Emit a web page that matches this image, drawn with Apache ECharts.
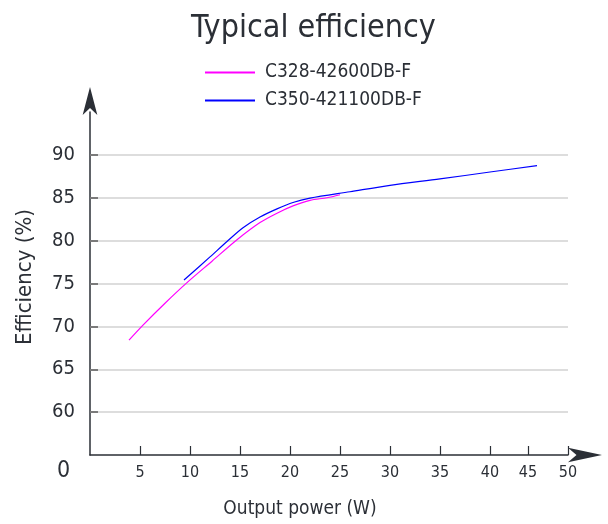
<!DOCTYPE html>
<html>
<head>
<meta charset="utf-8">
<script src="https://cdn.jsdelivr.net/npm/echarts@6/dist/echarts.min.js"></script>
<style>
  html, body { margin: 0; padding: 0; background: #fff; }
  #chart { width: 608px; height: 524px; }
</style>
</head>
<body>
<div id="chart"></div>
<script>
// 数据
const seriesNames = ['C328-42600DB-F', 'C350-421100DB-F']
const c328Power = [3.9, 5.3, 7.5, 9.7, 12.2, 14.7, 17, 18.7, 20.3, 22, 23.7, 25]
const c328Eff = [68.4, 70.15, 72.7, 75.1, 77.6, 80.1, 82.1, 83.2, 84.05, 84.7, 85.0, 85.35]
const c350Power = [9.4, 12, 13.7, 15.3, 17, 18.7, 20.3, 22, 26, 30, 35, 40, 44.7]
const c350Eff = [75.4, 78.1, 79.9, 81.5, 82.75, 83.7, 84.45, 84.95, 85.7, 86.45, 87.2, 88.0, 88.75]
// x ticks in the original are not evenly spaced past 40
const xTickValues = [5, 10, 15, 20, 25, 30, 35, 40, 43.8, 47.8]
const xTickLabels = ['5', '10', '15', '20', '25', '30', '35', '40', '45', '50']
const yTickValues = [60, 65, 70, 75, 80, 85, 90]

const font = "'DejaVu Sans Condensed', 'Liberation Sans Narrow', sans-serif"
const textColor = '#2b2f36'

function pairs (xs, ys) {
  return xs.map((x, i) => [x, ys[i]])
}

function makeSeries (name, data, color) {
  return {
    name,
    type: 'line',
    smooth: 0.3,
    showSymbol: false,
    symbol: 'none',
    lineStyle: { color, width: 1.2 },
    itemStyle: { color },
    data
  }
}

const chart = echarts.init(document.getElementById('chart'))
chart.setOption({
  backgroundColor: '#fff',
  animation: false,
  textStyle: { fontFamily: font },
  title: {
    text: 'Typical efficiency',
    left: 186,
    top: 8,
    textStyle: { fontFamily: font, fontWeight: 'normal', fontSize: 32, color: textColor }
  },
  legend: {
    orient: 'vertical',
    left: 200,
    top: 57,
    icon: 'rect',
    itemWidth: 50,
    itemHeight: 2,
    itemGap: 7,
    data: seriesNames,
    textStyle: { fontFamily: font, fontSize: 19, color: textColor, lineHeight: 21, padding: [0, 0, 0, 5] }
  },
  grid: {
    left: 90,
    right: 40,
    top: 112,
    bottom: 68,
    containLabel: false
  },
  xAxis: {
    type: 'value',
    min: 0,
    max: 47.8,
    name: 'Output power (W)',
    nameLocation: 'middle',
    nameGap: 45,
    nameTextStyle: { fontFamily: font, fontSize: 19, color: textColor, padding: [0, 58, 0, 0] },
    axisLine: {
      lineStyle: { color: textColor, width: 1.5 },
      symbol: ['none', 'arrow'],
      symbolSize: [11, 34],
      symbolOffset: [0, 34]
    },
    axisTick: {
      show: true,
      inside: true,
      length: 9,
      customValues: xTickValues,
      lineStyle: { color: textColor, width: 1.2 }
    },
    axisLabel: {
      margin: 10,
      fontSize: 16,
      color: textColor,
      customValues: xTickValues,
      formatter: (v) => {
        const i = xTickValues.indexOf(v)
        return i >= 0 ? xTickLabels[i] : ''
      }
    },
    splitLine: { show: false }
  },
  yAxis: {
    type: 'value',
    min: 55,
    max: 95,
    interval: 5,
    name: 'Efficiency (%)',
    nameLocation: 'middle',
    nameRotate: 90,
    nameGap: 54,
    nameTextStyle: { fontFamily: font, fontSize: 22, color: textColor, padding: [0, 0, 0, 13] },
    axisLine: {
      show: true,
      lineStyle: { color: textColor, width: 1.5 },
      symbol: ['none', 'arrow'],
      symbolSize: [11, 28],
      symbolOffset: [0, 25]
    },
    axisTick: {
      show: true,
      inside: true,
      length: 8,
      customValues: yTickValues,
      lineStyle: { color: '#7a7a7a', width: 2 }
    },
    axisLabel: {
      margin: 15,
      fontSize: 20,
      color: textColor,
      customValues: yTickValues
    },
    splitLine: {
      show: true,
      lineStyle: { color: '#d2d2d2', width: 1.5 }
    }
  },
  graphic: [
    {
      type: 'text',
      left: 57,
      top: 460,
      style: { text: '0', fontFamily: font, fontSize: 23, fill: textColor }
    }
  ],
  series: [
    makeSeries(seriesNames[0], pairs(c328Power, c328Eff), '#ff00ff'),
    makeSeries(seriesNames[1], pairs(c350Power, c350Eff), '#0000ff')
  ]
})
</script>
</body>
</html>
